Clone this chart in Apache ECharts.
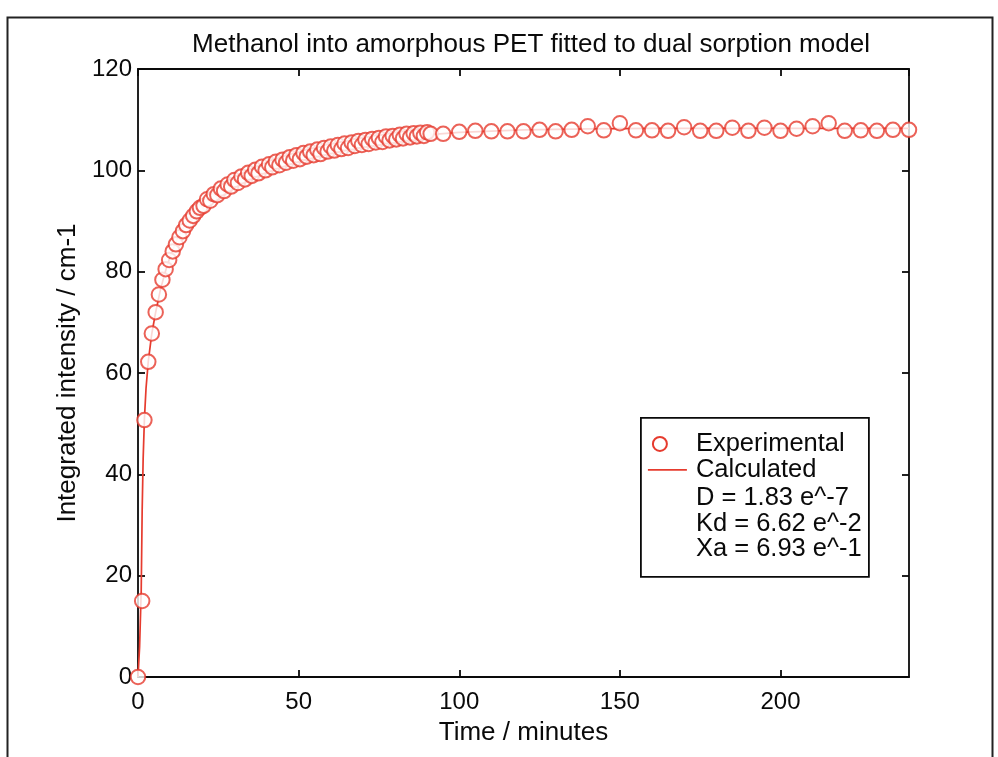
<!DOCTYPE html>
<html>
<head>
<meta charset="utf-8">
<script src="https://cdn.jsdelivr.net/npm/echarts@6/dist/echarts.min.js"></script>
<style>
html,body{margin:0;padding:0;background:#fff;}
#chart{width:998px;height:757px;}
</style>
</head>
<body>
<div id="chart"></div>
<script>
// ---- data ----
var titleText = 'Methanol into amorphous PET fitted to dual sorption model';
var xAxisName = 'Time / minutes';
var yAxisName = 'Integrated intensity / cm-1';
var legendSeries = ['Experimental', 'Calculated'];
var legendParams = ['D = 1.83 e^-7', 'Kd = 6.62 e^-2', 'Xa = 6.93 e^-1'];

var expTime = [0, 1.3, 2, 3.2, 4.3, 5.5, 6.5, 7.6, 8.6, 9.7, 10.8, 11.8, 12.9, 14, 15, 16.1, 17.2, 18.3, 19.3, 20.4,
  21.5, 22.5, 23.6, 24.7, 25.8, 26.8, 27.9, 29, 30, 31.1, 32.2, 33.3, 34.3, 35.4, 36.5, 37.5, 38.6, 39.7, 40.8, 41.8,
  42.9, 44, 45, 46.1, 47.2, 48.3, 49.3, 50.4, 51.5, 52.5, 53.6, 54.7, 55.8, 56.8, 57.9, 59, 60, 61.1, 62.2, 63.3,
  64.3, 65.4, 66.5, 67.5, 68.6, 69.7, 70.8, 71.8, 72.9, 74, 75, 76.1, 77.2, 78.3, 79.3, 80.4, 81.5, 82.5, 83.6, 84.7,
  85.8, 86.8, 87.9, 89, 90, 91.1,
  95, 100, 105, 110, 115, 120, 125, 130, 135, 140, 145, 150, 155, 160, 165, 170, 175, 180, 185, 190,
  195, 200, 205, 210, 215, 220, 225, 230, 235, 240];
var expIntensity = [0, 15, 50.7, 62.2, 67.8, 72, 75.5, 78.4, 80.5, 82.3, 84, 85.4, 86.8, 88, 89.2, 90.1, 91, 91.9, 92.6, 93.0,
  94.3, 94.0, 95.3, 95.1, 96.4, 95.9, 97.2, 96.8, 98.1, 97.5, 98.8, 98.2, 99.5, 98.9, 100.1, 99.4, 100.7, 100.0, 101.2, 100.6,
  101.7, 101.0, 102.1, 101.5, 102.6, 101.9, 103.0, 102.2, 103.4, 102.7, 103.7, 103.0, 104.1, 103.2, 104.4, 103.7, 104.7, 103.9, 105.0, 104.2,
  105.3, 104.4, 105.5, 104.8, 105.8, 105.0, 106.0, 105.2, 106.2, 105.5, 106.4, 105.6, 106.7, 105.9, 106.8, 106.1, 107.0, 106.3, 107.2, 106.5,
  107.3, 106.7, 107.4, 106.8, 107.5, 107.2,
  107.2, 107.6, 107.8, 107.7, 107.7, 107.7, 108.0, 107.7, 108.0, 108.7, 107.9, 109.3, 107.9, 107.9, 107.8, 108.5, 107.8, 107.8, 108.4, 107.8,
  108.4, 107.8, 108.2, 108.7, 109.3, 107.8, 107.9, 107.8, 108.0, 108.0];

var calcTime = [0, 0.5, 1, 1.3, 1.6, 2, 2.5, 3.2, 4.3, 5.5, 7, 8.5, 10, 12.5, 15, 20, 25, 30, 35, 40,
  50, 60, 70, 80, 90, 100, 120, 140, 160, 200, 240];
var calcIntensity = [0, 6, 17, 33, 43, 51, 57, 62.3, 67.8, 72, 76.5, 80, 83, 87, 89.6, 93.2, 95.8, 97.7, 99.2, 100.5,
  102.5, 104, 105.2, 106.2, 107, 107.5, 108, 108.2, 108.3, 108.3, 108.3];

var xMin = 0, xMax = 240, xStep = 50;
var yMin = 0, yMax = 120, yStep = 20;

// ---- chart ----
var red = '#e63b2e';
var ink = '#0a0a0a';
var font = '"Liberation Sans", Arial, sans-serif';
var expData = expTime.map(function (t, i) { return [t, expIntensity[i]]; });
var calcData = calcTime.map(function (t, i) { return [t, calcIntensity[i]]; });

var axisCommon = {
  type: 'value',
  axisLine: { show: true, onZero: false, lineStyle: { color: ink, width: 1.8 } },
  axisTick: { show: true, inside: true, length: 7, lineStyle: { color: ink, width: 1.8 } },
  splitLine: { show: false }
};

var chart = echarts.init(document.getElementById('chart'), null, { renderer: 'canvas' });
var legX = 640, legY = 417;
var legFont = '25.5px ' + font;
chart.setOption({
  backgroundColor: '#fff',
  animation: false,
  title: {
    text: titleText, left: 526, top: 27, textAlign: 'center',
    textStyle: { fontFamily: font, fontSize: 26, fontWeight: 'normal', color: ink }
  },
  grid: { left: 138, right: 89, top: 69, bottom: 80, containLabel: false },
  xAxis: [
    Object.assign({}, axisCommon, {
      position: 'bottom', min: xMin, max: xMax, interval: xStep,
      name: xAxisName, nameLocation: 'middle', nameGap: 43,
      nameTextStyle: { fontFamily: font, fontSize: 26, color: ink },
      axisLabel: { show: true, margin: 13, fontFamily: font, fontSize: 24, color: ink, showMaxLabel: false }
    }),
    Object.assign({}, axisCommon, {
      position: 'top', min: xMin, max: xMax, interval: xStep,
      axisLabel: { show: false }
    })
  ],
  yAxis: [
    Object.assign({}, axisCommon, {
      position: 'left', min: yMin, max: yMax, interval: yStep,
      name: yAxisName, nameLocation: 'middle', nameGap: 50, nameRotate: 90,
      nameTextStyle: { fontFamily: font, fontSize: 26, color: ink },
      axisLabel: { show: true, margin: 6, fontFamily: font, fontSize: 24, color: ink }
    }),
    Object.assign({}, axisCommon, {
      position: 'right', min: yMin, max: yMax, interval: yStep,
      axisLabel: { show: false }
    })
  ],
  series: [
    {
      name: 'Calculated', type: 'line', data: calcData, showSymbol: false, symbol: 'none',
      lineStyle: { color: red, width: 1.7 }, z: 3, clip: false
    },
    {
      name: 'Experimental', type: 'scatter', data: expData, symbol: 'emptyCircle', symbolSize: 14.5,
      itemStyle: { color: red, borderColor: red, borderWidth: 2 }, z: 4, clip: false
    }
  ],
  graphic: [
    { type: 'rect', left: 5, top: 15, shape: { width: 985, height: 760 }, style: { fill: 'none', stroke: '#222', lineWidth: 2 }, z: 0, silent: true },
    { type: 'group', left: legX, top: legY, z: 10, children: [
      { type: 'rect', shape: { x: 0, y: 0, width: 228, height: 159 }, style: { fill: '#fff', stroke: ink, lineWidth: 1.8 } },
      { type: 'circle', shape: { cx: 19, cy: 26, r: 7 }, style: { fill: 'none', stroke: red, lineWidth: 2 } },
      { type: 'line', shape: { x1: 7, y1: 52, x2: 46, y2: 52 }, style: { stroke: red, lineWidth: 1.7 } },
      { type: 'text', x: 55, y: 26, style: { text: legendSeries[0], font: legFont, fill: ink, textVerticalAlign: 'middle' } },
      { type: 'text', x: 55, y: 52, style: { text: legendSeries[1], font: legFont, fill: ink, textVerticalAlign: 'middle' } },
      { type: 'text', x: 55, y: 80, style: { text: legendParams[0], font: legFont, fill: ink, textVerticalAlign: 'middle' } },
      { type: 'text', x: 55, y: 106, style: { text: legendParams[1], font: legFont, fill: ink, textVerticalAlign: 'middle' } },
      { type: 'text', x: 55, y: 131, style: { text: legendParams[2], font: legFont, fill: ink, textVerticalAlign: 'middle' } }
    ]}
  ]
});
</script>
</body>
</html>
